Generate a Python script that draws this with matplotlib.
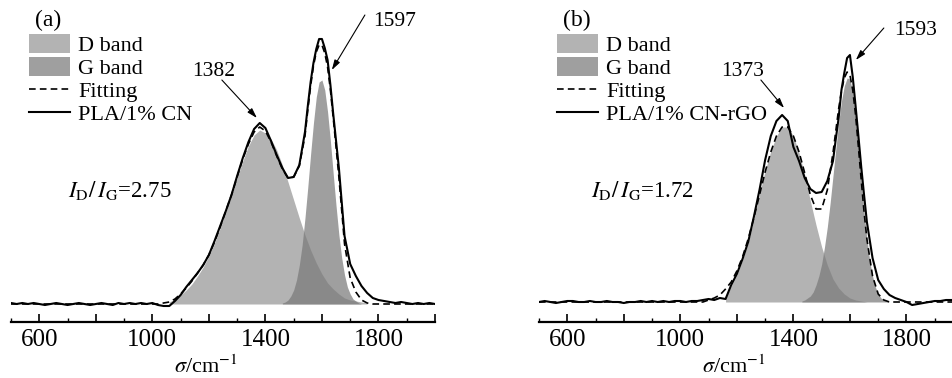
import numpy as np
import matplotlib
matplotlib.use("Agg")
import matplotlib.pyplot as plt
from matplotlib.ticker import MultipleLocator, FuncFormatter

plt.rcParams["font.family"] = "Liberation Serif"
plt.rcParams["mathtext.fontset"] = "stix"

# ----- Daten (Raman-Spektren, Intensitaet in willkuerlichen Einheiten) -----
# Wellenzahl-Raster fuer Messung und Fit (im G-Peak feiner)
wn = np.r_[500:1540:20, 1540:1660:10, 1660:2001:20]

# (a) PLA/1% CN
spec_a = [1, 0, 1, 0, 1, 0, -1, 0, 1, 0,
          -1, 0, 1, 0, -1, 0, 1, 0, -1, 1,
          0, 1, 0, 1, 0, 1, -1, -2, -2, 3,
          9, 17, 24, 31, 39, 49, 63, 78, 93, 109,
          128, 146, 162, 175, 181, 176, 163, 149, 136, 126,
          127, 139,
          172, 198, 222, 241, 255, 265, 265, 256, 244, 219, 190, 163,
          136, 68, 40, 28, 18, 11, 6, 4, 3, 2, 1, 2, 1, 0, 1, 0, 1, 0]
fit_a = [0] * 26 + [0, 1, 2, 5, 10, 16, 23, 31, 39, 49,
                    62, 77, 93, 109, 127, 145, 160, 172, 177, 173,
                    162, 148, 135, 126, 127, 138] + \
        [168, 194, 218, 238, 252, 259, 259, 251, 237, 214, 186, 157] + \
        [127, 60, 26, 12, 4, 1] + [0] * 12
d_wn_a = np.arange(1060, 1761, 20)
d_band_a = [2, 5, 9, 14, 20, 28, 37, 48, 61, 76,
            92, 108, 126, 143, 158, 169, 174, 171, 165, 154,
            139, 122, 104, 86, 69, 54, 41, 30, 21, 15,
            10, 6, 4, 3, 2, 1]
g_wn_a = np.arange(1460, 1741, 10)
g_band_a = [1, 2, 4, 8, 14, 24, 39, 59, 86, 117,
            150, 181, 207, 222, 224, 214, 192, 163, 130, 98,
            69, 46, 29, 17, 10, 5, 3, 1, 0]

# (b) PLA/1% CN-rGO
spec_b = [0, 1, 0, -1, 0, 1, 1, 0, 0, 1,
          0, 0, 1, 0, 0, -1, 0, 0, 1, 0,
          1, 0, 1, 0, 1, 1, 0, 1, 1, 2,
          3, 2, 4, 3, 17, 28, 43, 60, 85, 112,
          142, 166, 181, 187, 181, 155, 141, 124, 113, 109,
          110, 121,
          141, 163, 184, 212, 229, 244, 247, 225, 196, 166, 135, 107,
          80, 44, 22, 13, 7, 4, 2, 0, -3, -2, -1, 0, 1, 1, 2, 2, 2, 2]
fit_b = [0] * 30 + [2, 4, 7, 13, 20, 31, 45, 63, 84, 107,
                    130, 150, 166, 175, 175, 166, 150, 129, 107, 93,
                    93, 112] + \
        [149, 171, 193, 211, 224, 230, 227, 212, 187, 155, 122, 90] + \
        [63, 26, 8, 2] + [0] * 14
d_wn_b = np.arange(1160, 1661, 20)
d_band_b = [4, 16, 27, 42, 59, 83, 108, 131, 151, 166,
            175, 175, 166, 149, 127, 101, 77, 55, 37, 23,
            14, 8, 4, 2, 1, 0]
g_wn_b = np.arange(1430, 1741, 10)
g_band_b = [1, 2, 4, 6, 10, 17, 26, 38, 55, 75,
            99, 126, 153, 179, 201, 216, 224, 223, 209, 184,
            154, 121, 90, 63, 41, 26, 15, 8, 4, 2, 1, 0]

tick_labels = [600, 1000, 1400, 1800]

# ----- Plot -----
fig = plt.figure(figsize=(9.52, 3.78), dpi=100)
ax_a = fig.add_axes([11 / 952, 56 / 378, 424 / 952, 322 / 378])
ax_b = fig.add_axes([539 / 952, 56 / 378, 424 / 952, 322 / 378])


def draw_panel(ax, tag, sample, spec, fit, d_wn, d_band, g_wn, g_band, ratio, ylim):
    h_d = ax.fill_between(d_wn, d_band, color="#b3b3b3", lw=0)
    h_g = ax.fill_between(g_wn, g_band, color="#7a7a7a", alpha=0.72, lw=0)
    h_fit, = ax.plot(wn, fit, color="k", ls=(0, (4, 2.5)), lw=1.2)
    h_spec, = ax.plot(wn, spec, color="k", lw=1.5)

    ax.legend([h_d, h_g, h_fit, h_spec], ["D band", "G band", "Fitting", sample],
              loc="upper left", bbox_to_anchor=(0.0425, 0.894), frameon=False,
              fontsize=16, handlelength=1.85, handleheight=0.9, handletextpad=0.35,
              labelspacing=0.05, borderpad=0, borderaxespad=0)
    ax.text(0.057, 0.935, tag, transform=ax.transAxes, fontsize=17, va="center")
    ax.text(ratio[0], ratio[1], r"$I_{\rm D}/\,I_{\rm G}$=" + ratio[2],
            fontsize=16.5, va="center")

    ax.set_xlim(500, 2000)
    ax.set_ylim(*ylim)
    ax.xaxis.set_major_locator(MultipleLocator(200))
    ax.xaxis.set_minor_locator(MultipleLocator(100))
    ax.xaxis.set_major_formatter(
        FuncFormatter(lambda v, p: f"{v:.0f}" if round(v) in tick_labels else ""))
    ax.tick_params(axis="x", which="major", direction="in", length=6, width=1.2,
                   labelsize=18, pad=5)
    ax.tick_params(axis="x", which="minor", direction="in", length=3, width=1.0)
    ax.set_yticks([])
    for s in ("left", "right", "top"):
        ax.spines[s].set_visible(False)
    ax.spines["bottom"].set_linewidth(1.6)
    ax.set_xlabel(r"$\sigma$/cm$^{-1}$", fontsize=16)
    ax.xaxis.set_label_coords(0.46, -0.138)
    ax.xaxis.label.set_va("center")


arrow = dict(arrowstyle="-|>,head_length=0.5,head_width=0.15", color="k",
             lw=0.8, mutation_scale=12, shrinkA=0, shrinkB=0)

draw_panel(ax_a, "(a)", "PLA/1% CN", spec_a, fit_a, d_wn_a, d_band_a,
           g_wn_a, g_band_a, (702, 114, "2.75"), (-18, 304))
ax_a.text(1218, 232, "1382", fontsize=15.5, ha="center", va="center")
ax_a.annotate("", xy=(1370, 186), xytext=(1246, 224), arrowprops=arrow)
ax_a.text(1858, 283, "1597", fontsize=15.5, ha="center", va="center")
ax_a.annotate("", xy=(1635, 234), xytext=(1752, 289), arrowprops=arrow)

draw_panel(ax_b, "(b)", "PLA/1% CN-rGO", spec_b, fit_b, d_wn_b, d_band_b,
           g_wn_b, g_band_b, (684, 112, "1.72"), (-20, 302))
ax_b.text(1222, 230, "1373", fontsize=15.5, ha="center", va="center")
ax_b.annotate("", xy=(1367, 194), xytext=(1285, 222), arrowprops=arrow)
ax_b.text(1834, 272, "1593", fontsize=15.5, ha="center", va="center")
ax_b.annotate("", xy=(1621, 242), xytext=(1720, 274), arrowprops=arrow)

fig.savefig("out.png", dpi=100)
